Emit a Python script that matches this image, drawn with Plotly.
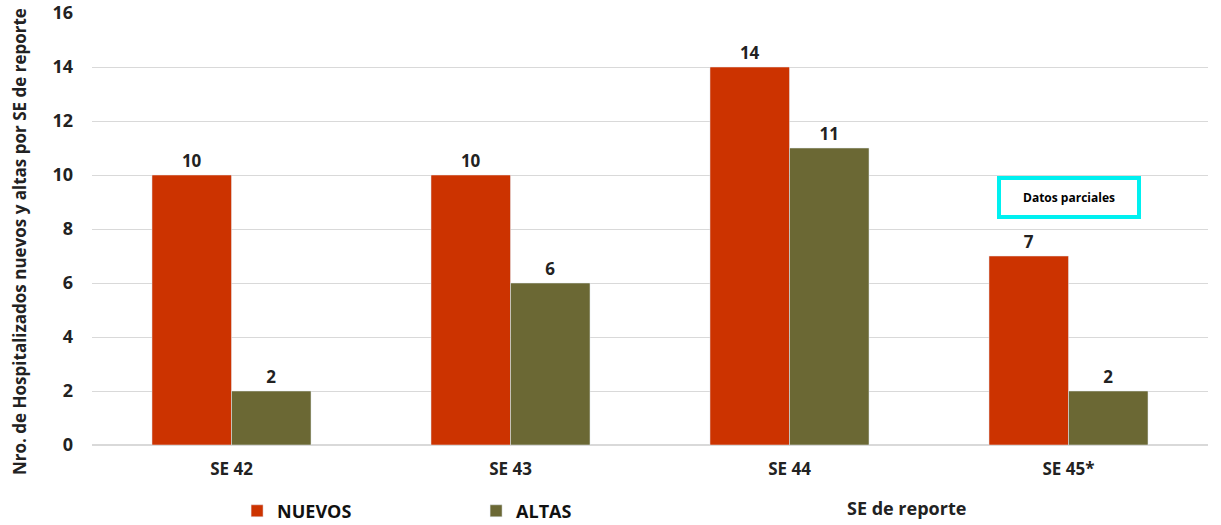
import plotly.graph_objects as go

categories = ["SE 42", "SE 43", "SE 44", "SE 45*"]
nuevos = [10, 10, 14, 7]
altas = [2, 6, 11, 2]
y_ticks = [0, 2, 4, 6, 8, 10, 12, 14, 16]

FONT = "Open Sans"
fig = go.Figure()
fig.add_trace(go.Bar(
    x=categories, y=nuevos, name="NUEVOS", marker_color="#CC3300",
    text=nuevos, textposition="outside", cliponaxis=False,
    textfont=dict(family=FONT, size=17, color="#222222", weight="bold"),
))
fig.add_trace(go.Bar(
    x=categories, y=altas, name="ALTAS", marker_color="#6B6834",
    text=altas, textposition="outside", cliponaxis=False,
    textfont=dict(family=FONT, size=17, color="#222222", weight="bold"),
))

fig.add_annotation(
    x=3, y=9.15, xref="x", yref="y", text="<b>Datos parciales</b>",
    showarrow=False, font=dict(family=FONT, size=12, color="#000000"),
    bordercolor="#00F0F0", borderwidth=4, borderpad=9, bgcolor="white",
    width=118,
)
fig.add_annotation(
    x=0.73, y=-0.145, xref="paper", yref="paper", text="<b>SE de reporte</b>",
    showarrow=False, font=dict(family=FONT, size=18, color="#222222"),
    xanchor="center", yanchor="middle",
)
fig.add_annotation(
    x=-0.0645, y=0.47, xref="paper", yref="paper", textangle=-90,
    text="<b>Nro. de Hospitalizados nuevos y altas por SE de reporte</b>",
    showarrow=False, font=dict(family=FONT, size=17, color="#222222"),
    xanchor="center", yanchor="middle",
)

fig.update_layout(
    width=1221, height=525,
    margin=dict(l=92, r=13, t=13, b=80, autoexpand=False),
    plot_bgcolor="white", paper_bgcolor="white",
    barmode="group", bargap=0.43, bargroupgap=0,
    font=dict(family=FONT, color="#222222"),
    showlegend=True,
    legend=dict(
        orientation="h", x=0.13, xanchor="left", y=-0.153, yanchor="middle",
        font=dict(family=FONT, size=18, color="#111111", weight="bold"),
        entrywidth=194, entrywidthmode="pixels", itemwidth=30,
        traceorder="normal",
    ),
    xaxis=dict(
        tickfont=dict(family=FONT, size=17, color="#222222", weight="bold"),
        showline=False, ticks="", showgrid=False, ticklabelstandoff=12,
    ),
    yaxis=dict(
        range=[0, 16], tickvals=y_ticks,
        tickfont=dict(family=FONT, size=18, color="#222222", weight="bold"),
        gridcolor="#D9D9D9", gridwidth=1, zeroline=True, zerolinecolor="#D9D9D9",
        ticks="", ticklabelstandoff=18,
    ),
)

fig.write_html(
    "out.html",
    config={"displayModeBar": False},
    post_script="document.body.style.margin='0';document.body.style.overflow='hidden';",
)
